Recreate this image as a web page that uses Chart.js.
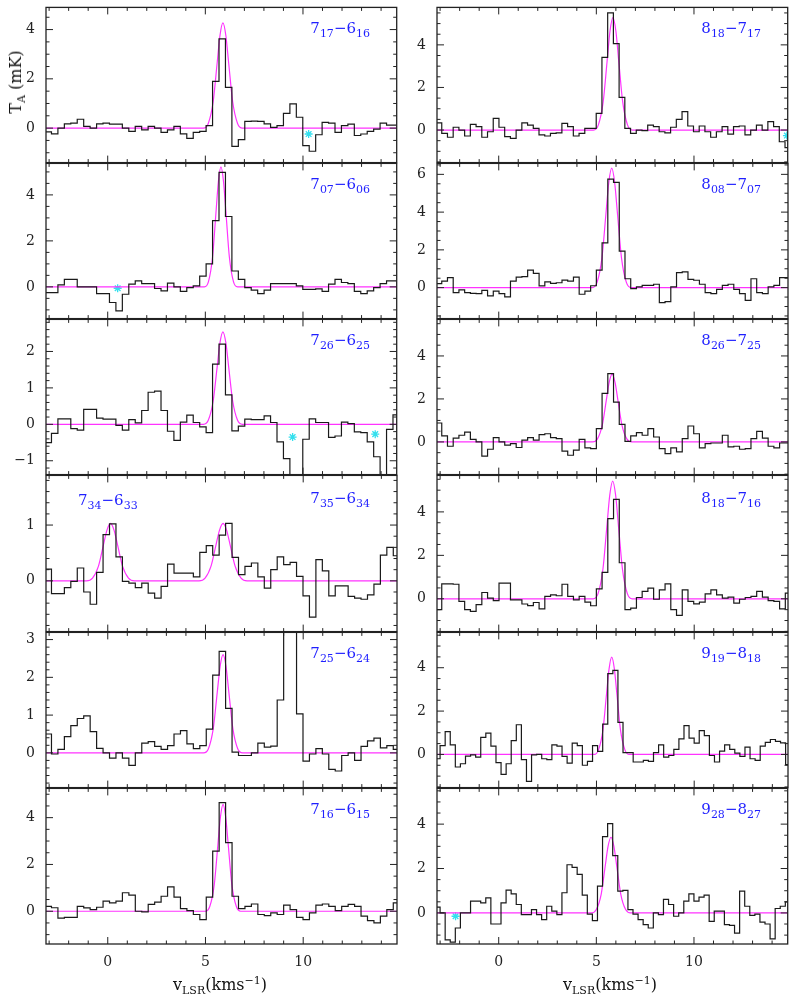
<!DOCTYPE html>
<html>
<head>
<meta charset="utf-8">
<script src="https://cdn.jsdelivr.net/npm/chart.js@4.4.1/dist/chart.umd.min.js"></script>
<style>
  body { margin: 0; background: #fff; width: 800px; height: 1004px; position: relative; overflow: hidden; }
  canvas { position: absolute; }
  .tr { position: absolute; font-family: "DejaVu Serif", serif; font-size: 15px; line-height: 15px; color: #1f1fff; white-space: nowrap; }
  .tr sub { font-size: 11px; vertical-align: -4px; line-height: 0; }
  .ttl { position: absolute; font-family: "DejaVu Serif", serif; font-size: 16px; line-height: 16px; color: #111; white-space: nowrap; }
  .ttl sub, .ttl sup { font-size: 11px; line-height: 0; }
  .ttl sub { vertical-align: -4px; }
  .ttl sup { vertical-align: 6px; }
</style>
</head>
<body>
<script>
// velocity axis (km/s)
const velMin = -3.16, velMax = 14.8;

// channel grid: first channel edge, channel width (km/s)
const grid76 = [-3.21, 0.33];
const grid87 = [-3.21, 0.293];
const grid98 = [-3.262, 0.26];

// T_A (mK) per channel
const t717 = [-0.15,-0.23,0.0,0.17,0.2,0.36,0.07,0.0,0.17,0.2, 0.16,0.16,0.0,-0.13,0.07,-0.07,0.07,0.0,-0.17,-0.07,
  0.07,-0.23,-0.42,-0.17,-0.13,0.1,1.9,3.62,1.65,-0.74, -0.47,0.27,0.28,0.27,0.17,0.03,0.1,0.6,0.98,0.44,
  -0.71,-0.94,-0.27,0.23,0.2,-0.17,0.1,0.16,-0.3,-0.24, -0.13,-0.04,0.2,0.12,0.12];
const t707 = [-0.25,-0.25,0.09,0.33,0.33,0.0,0.0,0.0,-0.29,-0.29, -0.68,-1.04,-0.32,0.12,0.26,0.14,0.14,-0.07,-0.17,0.16,
  0.0,-0.2,-0.03,0.04,0.47,1.0,2.88,4.98,3.06,0.69, 0.33,-0.03,-0.14,-0.29,-0.14,0.14,0.14,0.14,0.14,0.04,
  -0.11,-0.11,-0.09,-0.2,0.12,0.33,0.19,0.14,-0.2,-0.29, -0.17,-0.03,0.14,0.26,0.26];
const t726 = [-0.5,-0.25,0.15,0.15,-0.12,-0.16,0.41,0.41,0.17,0.14, 0.14,-0.03,-0.16,0.13,0.04,0.38,0.88,0.91,0.38,-0.19,
  -0.44,0.06,0.25,0.05,-0.07,-0.23,1.65,2.2,0.81,-0.18, -0.05,0.14,0.13,0.13,0.23,0.05,-0.48,-0.94,-1.7,-1.7,
  -0.41,0.15,0.05,0.05,-0.36,-0.32,0.06,0.02,-0.21,-0.23, -0.48,-0.89,-1.7,-0.14,0.26];
const t734 = [0.21,-0.23,-0.23,-0.12,-0.01,0.23,-0.2,-0.42,0.15,0.83, 1.02,0.43,-0.01,-0.04,-0.12,-0.04,-0.22,-0.31,-0.1,0.3,
  0.14,0.14,0.14,0.07,0.51,0.63,0.46,0.82,1.03,0.42, 0.11,0.26,0.32,0.07,-0.13,0.2,0.43,0.29,0.33,0.08,
  -0.27,-0.65,0.38,0.18,-0.27,-0.09,-0.09,-0.28,-0.31,-0.33, -0.25,-0.06,0.46,0.6,0.45];
const t725 = [0.5,-0.03,0.09,0.43,0.72,0.91,0.98,0.56,0.12,0.0, -0.14,0.0,-0.14,-0.33,0.0,0.26,0.3,0.17,0.09,0.19,
  0.5,0.59,0.24,0.11,0.19,0.63,2.06,2.69,1.18,0.02, -0.07,-0.07,0.0,0.26,0.15,0.18,1.4,4.0,3.6,1.03,
  -0.22,-0.03,0.11,-0.03,-0.44,-0.48,-0.07,0.0,-0.2,0.17, 0.32,0.39,0.13,0.19,0.09];
const t716 = [0.21,0.15,-0.29,-0.26,-0.26,0.21,0.14,0.07,0.17,0.43, 0.36,0.43,0.79,0.69,0.0,-0.03,0.29,0.39,0.64,1.04,
  0.6,0.11,0.03,-0.14,-0.36,0.6,2.57,4.64,2.93,0.64, 0.11,0.21,0.31,-0.14,-0.19,-0.07,-0.14,0.26,0.07,-0.26,
  -0.36,-0.07,0.26,0.31,0.21,0.03,0.21,0.29,0.21,-0.21, -0.4,-0.5,-0.21,0.07,0.36];
const t818a = [0.34,-0.16,-0.34,0.13,0.0,-0.28,0.27,0.16,-0.34,-0.08, 0.55,0.13,-0.31,-0.39,0.0,0.34,0.23,0.08,-0.23,-0.28,
  -0.16,-0.13,0.31,0.16,-0.28,-0.16,0.08,0.08,0.78,3.41, 5.5,4.06,1.53,0.08,-0.16,0.0,-0.03,0.23,0.16,-0.08,
  -0.13,0.13,0.5,0.86,0.19,-0.08,0.19,-0.08,-0.34,-0.08, 0.16,-0.19,0.16,0.19,-0.23,0.0,0.23,0.0,0.39,0.16,
  -0.55,-0.83];
const t808 = [0.21,0.35,0.53,-0.26,-0.12,-0.26,-0.3,-0.32,-0.14,-0.44, -0.18,-0.32,-0.49,0.35,0.56,0.58,0.93,0.75,0.09,0.3,
  0.23,0.26,0.4,0.35,0.56,-0.35,-0.18,0.1,0.93,2.37, 5.75,5.58,1.93,0.47,-0.05,0.04,0.12,0.12,0.18,-0.79,
  -0.74,0.04,0.79,0.84,0.44,0.39,0.18,-0.26,-0.32,-0.09, 0.12,0.18,-0.09,-0.32,-0.67,0.47,-0.26,-0.32,0.04,0.12,
  0.53,0.53];
const t826 = [0.88,0.28,-0.2,0.18,0.31,0.46,0.12,0.0,-0.66,-0.34, 0.2,0.0,-0.15,-0.08,-0.26,0.08,0.2,0.08,0.34,0.38,
  0.2,0.15,-0.43,-0.62,-0.38,0.12,-0.28,-0.31,0.62,2.26, 3.18,1.85,0.82,0.03,0.28,0.43,0.31,0.62,0.23,-0.31,
  -0.54,-0.28,-0.46,0.15,0.74,0.38,-0.28,-0.08,-0.05,-0.05, 0.31,-0.23,-0.2,-0.34,-0.31,0.15,0.49,0.18,-0.2,-0.28,
  -0.05,-0.05];
const t818b = [-0.5,0.69,0.69,0.67,-0.12,-0.5,-0.58,-0.27,0.29,0.03, -0.08,0.72,0.72,-0.05,-0.05,-0.24,-0.31,-0.17,-0.46,0.11,
  0.18,0.14,0.67,0.11,-0.05,0.11,-0.15,-0.32,0.46,1.22, 3.69,4.58,1.66,-0.5,-0.43,0.06,0.34,0.49,-0.02,0.41,
  0.69,-0.5,-0.76,0.41,-0.12,-0.23,-0.15,0.23,0.41,0.18, 0.03,0.08,-0.2,-0.02,0.06,0.11,0.34,0.08,-0.08,-0.12,
  -0.46,0.26];
const t919 = [-0.2,0.41,1.05,0.44,-0.58,-0.43,-0.08,-0.02,-0.12,0.79, 0.98,0.38,-0.38,-0.92,-0.43,0.64,1.37,-0.24,-1.24,-0.02,
  0.0,-0.2,-0.24,0.44,0.38,-0.09,-0.4,0.52,0.41,-0.5, -0.32,0.41,0.14,1.4,3.73,3.88,1.48,0.08,0.08,-0.35,
  -0.35,-0.27,-0.32,0.08,0.44,-0.12,-0.05,0.23,0.72,1.33, 0.75,0.52,1.1,0.87,-0.05,-0.35,0.15,0.44,0.23,0.06,
  -0.09,0.34,-0.2,-0.27,0.38,0.56,0.69,0.6,0.53,-0.47];
const t928 = [0.26,0.0,-1.21,-1.32,-0.68,0.0,0.0,0.53,0.53,0.45, 0.68,-0.5,-0.5,0.45,1.03,0.86,0.38,-0.08,-0.08,0.15,
  -0.08,-0.3,0.3,0.08,-0.08,0.91,2.17,2.05,1.74,0.8, -0.05,-0.35,1.21,3.44,4.02,2.58,0.98,1.02,0.15,-0.05,
  -0.3,-0.53,-0.68,0.0,-0.08,0.61,0.38,-0.15,0.0,0.53, 0.86,0.53,0.71,0.8,-0.38,0.08,0.08,-0.53,-0.56,-0.91,
  0.98,0.3,-0.11,-0.05,-0.41,-0.5,-1.17,0.2,0.3,0.5];

// gaussian fits, [v, T] points
const fit717 = [[-3.5,0],[4.9,0],[5.15,0.19],[5.4,1.07],[5.6,2.6],[5.75,3.76],[5.9,4.27],[6.05,3.76],[6.2,2.6],[6.4,1.07],[6.65,0.19],[6.9,0],[15.2,0]];
const fit707 = [[-3.5,0],[4.95,0],[5.16,0.23],[5.37,1.3],[5.54,3.18],[5.67,4.59],[5.8,5.22],[5.93,4.59],[6.06,3.18],[6.23,1.3],[6.44,0.23],[6.65,0],[15.2,0]];
const fit726 = [[-3.5,0],[4.9,0],[5.15,0.11],[5.4,0.64],[5.6,1.55],[5.75,2.24],[5.9,2.54],[6.05,2.24],[6.2,1.55],[6.4,0.64],[6.65,0.11],[6.9,0],[15.2,0]];
const fit734 = [[-3.5,0],[-1.09,0],[-0.78,0.05],[-0.48,0.26],[-0.23,0.63],[-0.04,0.91],[0.14,1.03],[0.32,0.91],[0.51,0.63],[0.76,0.26],[1.06,0.05],[1.37,0],
  [4.67,0],[4.98,0.05],[5.28,0.26],[5.53,0.63],[5.72,0.91],[5.9,1.03],[6.08,0.91],[6.27,0.63],[6.52,0.26],[6.82,0.05],[7.13,0],[15.2,0]];
const fit725 = [[-3.5,0],[4.9,0],[5.15,0.11],[5.4,0.65],[5.6,1.59],[5.75,2.29],[5.9,2.6],[6.05,2.29],[6.2,1.59],[6.4,0.65],[6.65,0.11],[6.9,0],[15.2,0]];
const fit716 = [[-3.5,0],[5.0,0],[5.22,0.2],[5.45,1.14],[5.63,2.79],[5.765,4.02],[5.9,4.57],[6.035,4.02],[6.17,2.79],[6.35,1.14],[6.58,0.2],[6.8,0],[15.2,0]];
const fit818a = [[-3.5,0],[4.85,0],[5.1,0.23],[5.35,1.32],[5.55,3.22],[5.7,4.65],[5.85,5.28],[6.0,4.65],[6.15,3.22],[6.35,1.32],[6.6,0.23],[6.85,0],[15.2,0]];
const fit808 = [[-3.5,0],[4.78,0],[5.03,0.28],[5.28,1.58],[5.48,3.86],[5.63,5.57],[5.78,6.33],[5.93,5.57],[6.08,3.86],[6.28,1.58],[6.53,0.28],[6.78,0],[15.2,0]];
const fit826 = [[-3.5,0],[4.8,0],[5.05,0.14],[5.3,0.79],[5.5,1.92],[5.65,2.77],[5.8,3.15],[5.95,2.77],[6.1,1.92],[6.3,0.79],[6.55,0.14],[6.8,0],[15.2,0]];
const fit818b = [[-3.5,0],[4.83,0],[5.08,0.24],[5.33,1.36],[5.53,3.31],[5.68,4.77],[5.83,5.42],[5.98,4.77],[6.13,3.31],[6.33,1.36],[6.58,0.24],[6.83,0],[15.2,0]];
const fit919 = [[-3.5,0],[4.88,0],[5.1,0.2],[5.33,1.12],[5.51,2.74],[5.645,3.95],[5.78,4.49],[5.915,3.95],[6.05,2.74],[6.23,1.12],[6.46,0.2],[6.68,0],[15.2,0]];
const fit928 = [[-3.5,0],[4.75,0],[5.0,0.15],[5.25,0.85],[5.45,2.08],[5.6,3.0],[5.75,3.41],[5.9,3.0],[6.05,2.08],[6.25,0.85],[6.5,0.15],[6.75,0],[15.2,0]];

// cyan asterisks
const star717 = [[10.29,-0.24]];
const star707 = [[0.51,-0.06]];
const star726 = [[9.47,-0.35],[13.7,-0.27]];
const star818a = [[14.76,-0.26]];
const star928 = [[-2.21,-0.15]];

// y ranges and tick steps [min, max, major, minor]
const yr717 = [-1.4, 4.9, 2, 0.5];
const yr707 = [-1.38, 5.37, 2, 0.5];
const yr726 = [-1.38, 2.88, 1, 0.2];
const yr734 = [-0.91, 1.89, 1, 0.2];
const yr725 = [-0.92, 3.19, 1, 0.2];
const yr716 = [-1.4, 5.25, 2, 0.5];
const yr818a = [-1.53, 5.76, 2, 0.5];
const yr808 = [-1.64, 6.58, 2, 0.5];
const yr826 = [-1.52, 5.7, 2, 0.5];
const yr818b = [-1.51, 5.68, 2, 0.5];
const yr919 = [-1.53, 5.63, 2, 0.5];
const yr928 = [-1.4, 5.61, 2, 0.5];

// labels: [up J, up KaKc, low J, low KaKc]
const panels = [
  {col:0, row:0, t:t717, g:grid76, fit:fit717, star:star717, yr:yr717, lab:[['7','17','6','16']]},
  {col:0, row:1, t:t707, g:grid76, fit:fit707, star:star707, yr:yr707, lab:[['7','07','6','06']]},
  {col:0, row:2, t:t726, g:grid76, fit:fit726, star:star726, yr:yr726, lab:[['7','26','6','25']]},
  {col:0, row:3, t:t734, g:grid76, fit:fit734, star:[], yr:yr734, lab:[['7','35','6','34'], ['7','34','6','33']]},
  {col:0, row:4, t:t725, g:grid76, fit:fit725, star:[], yr:yr725, lab:[['7','25','6','24']]},
  {col:0, row:5, t:t716, g:grid76, fit:fit716, star:[], yr:yr716, lab:[['7','16','6','15']]},
  {col:1, row:0, t:t818a, g:grid87, fit:fit818a, star:star818a, yr:yr818a, lab:[['8','18','7','17']]},
  {col:1, row:1, t:t808, g:grid87, fit:fit808, star:[], yr:yr808, lab:[['8','08','7','07']]},
  {col:1, row:2, t:t826, g:grid87, fit:fit826, star:[], yr:yr826, lab:[['8','26','7','25']]},
  {col:1, row:3, t:t818b, g:grid87, fit:fit818b, star:[], yr:yr818b, lab:[['8','18','7','16']]},
  {col:1, row:4, t:t919, g:grid98, fit:fit919, star:[], yr:yr919, lab:[['9','19','8','18']]},
  {col:1, row:5, t:t928, g:grid98, fit:fit928, star:star928, yr:yr928, lab:[['9','28','8','27']]},
];

const frameL = [46, 437];
const frameW = 351;
const rowTop = [7, 163, 319, 475, 632, 788, 944];
const YAXW = 45, PAD = 3, XAXH = 60;

const tickFont = {family: 'DejaVu Serif', size: 14};

// frame with inward ticks on all four sides
const framePlugin = {
  id: 'frame',
  afterDatasetsDraw(chart, args, opts) {
    const {ctx, chartArea: a} = chart;
    const x = chart.scales.x, y = chart.scales.y;
    ctx.save();
    ctx.strokeStyle = '#222';
    ctx.lineWidth = 1.3;
    ctx.strokeRect(a.left, a.top, a.right - a.left, a.bottom - a.top);
    ctx.lineWidth = 1;
    ctx.beginPath();
    for (let v = Math.ceil(x.min); v <= x.max; v++) {
      const px = x.getPixelForValue(v);
      const len = v % 5 === 0 ? 7 : 3.5;
      ctx.moveTo(px, a.bottom); ctx.lineTo(px, a.bottom - len);
      ctx.moveTo(px, a.top); ctx.lineTo(px, a.top + len);
    }
    for (let k = Math.ceil(y.min / opts.minor - 1e-6); k * opts.minor <= y.max + 1e-6; k++) {
      const v = k * opts.minor;
      const py = y.getPixelForValue(v);
      const r = v / opts.major;
      const len = Math.abs(r - Math.round(r)) < 1e-6 ? 7 : 3.5;
      ctx.moveTo(a.left, py); ctx.lineTo(a.left + len, py);
      ctx.moveTo(a.right, py); ctx.lineTo(a.right - len, py);
    }
    ctx.stroke();
    ctx.restore();
  }
};

function chanPoints(vals, g) {
  const pts = vals.map((v, i) => ({x: g[0] + i * g[1], y: v}));
  pts.push({x: g[0] + vals.length * g[1], y: vals[vals.length - 1]});
  return pts;
}

function config(p) {
  const bottom = p.row === 5;
  return {
    type: 'line',
    data: {
      datasets: [
        {data: chanPoints(p.t, p.g), stepped: 'before', borderColor: '#1a1a1a', borderWidth: 1.2, pointRadius: 0},
        {data: p.fit.map(q => ({x: q[0], y: q[1]})), borderColor: '#ff33ff', borderWidth: 1.2, pointRadius: 0,
         cubicInterpolationMode: 'monotone'},
        {data: p.star.map(q => ({x: q[0], y: q[1]})), showLine: false, pointStyle: 'star', pointRadius: 4,
         borderColor: '#33e0ee', borderWidth: 1.3}
      ]
    },
    options: {
      responsive: false,
      maintainAspectRatio: false,
      animation: false,
      events: [],
      layout: {padding: {top: PAD, right: PAD + 1, bottom: bottom ? 0 : PAD, left: 0}},
      plugins: {legend: {display: false}, tooltip: {enabled: false}, title: {display: false},
                frame: {major: p.yr[2], minor: p.yr[3]}},
      scales: {
        x: {
          type: 'linear', min: velMin, max: velMax,
          grid: {display: false, drawTicks: false}, border: {display: false},
          ticks: {display: bottom, stepSize: 5, includeBounds: false, font: tickFont, color: '#222',
                  padding: 10, maxRotation: 0, autoSkip: false},
          afterFit: s => { s.height = bottom ? XAXH : 0; }
        },
        y: {
          type: 'linear', min: p.yr[0], max: p.yr[1],
          grid: {display: false, drawTicks: false}, border: {display: false},
          ticks: {stepSize: p.yr[2], includeBounds: false, font: tickFont, color: '#222', padding: 11,
                  callback: v => v < 0 ? '\u2212' + (-v) : String(v)},
          afterFit: s => { s.width = YAXW; }
        }
      }
    },
    plugins: [framePlugin]
  };
}

// build a panel canvas; adj widens the canvas so the plot frame lands on the wanted box
function makePanel(p, adj) {
  const bottom = p.row === 5;
  const h = rowTop[p.row + 1] - rowTop[p.row];
  const cv = document.createElement('canvas');
  cv.width = YAXW + frameW + PAD + 1 + adj.l + adj.r;
  cv.height = PAD + h + (bottom ? XAXH : PAD) + adj.t + adj.b;
  cv.style.left = (frameL[p.col] - YAXW - adj.l) + 'px';
  cv.style.top = (rowTop[p.row] - PAD - adj.t) + 'px';
  document.body.appendChild(cv);
  return new Chart(cv, config(p));
}

function addLabel(html, left, top, right) {
  const d = document.createElement('div');
  d.className = 'tr';
  d.innerHTML = html;
  if (right !== undefined) d.style.right = right + 'px'; else d.style.left = left + 'px';
  d.style.top = top + 'px';
  document.body.appendChild(d);
}

panels.forEach(p => {
  const h = rowTop[p.row + 1] - rowTop[p.row];
  let chart = makePanel(p, {l: 0, r: 0, t: 0, b: 0});
  const a = chart.chartArea;
  const adj = {
    l: Math.round(a.left - YAXW), r: Math.round(YAXW + frameW - a.right),
    t: Math.round(a.top - PAD), b: Math.round(PAD + h - a.bottom)
  };
  if (adj.l || adj.r || adj.t || adj.b) {
    const cv = chart.canvas;
    chart.destroy();
    cv.remove();
    chart = makePanel(p, adj);
  }

  // transition labels
  p.lab.forEach((l, i) => {
    const html = l[0] + '<sub>' + l[1] + '</sub>\u2212' + l[2] + '<sub>' + l[3] + '</sub>';
    const top = rowTop[p.row] + (p.row === 3 ? 16 : 14);
    if (i === 0) addLabel(html, 0, top, 800 - (frameL[p.col] + frameW - 27));
    else addLabel(html, 78, top + 2);
  });
});

// axis titles
function addTitle(html, style) {
  const d = document.createElement('div');
  d.className = 'ttl';
  d.innerHTML = html;
  Object.assign(d.style, style);
  document.body.appendChild(d);
}
addTitle('T<sub>A</sub> (mK)', {left: '16px', top: '82px', transform: 'translate(-50%,-50%) rotate(-90deg)'});
addTitle('v<sub>LSR</sub>(kms<sup>\u22121</sup>)', {left: '220px', top: '985px', transform: 'translate(-50%,-50%)'});
addTitle('v<sub>LSR</sub>(kms<sup>\u22121</sup>)', {left: '610px', top: '985px', transform: 'translate(-50%,-50%)'});
</script>
</body>
</html>
